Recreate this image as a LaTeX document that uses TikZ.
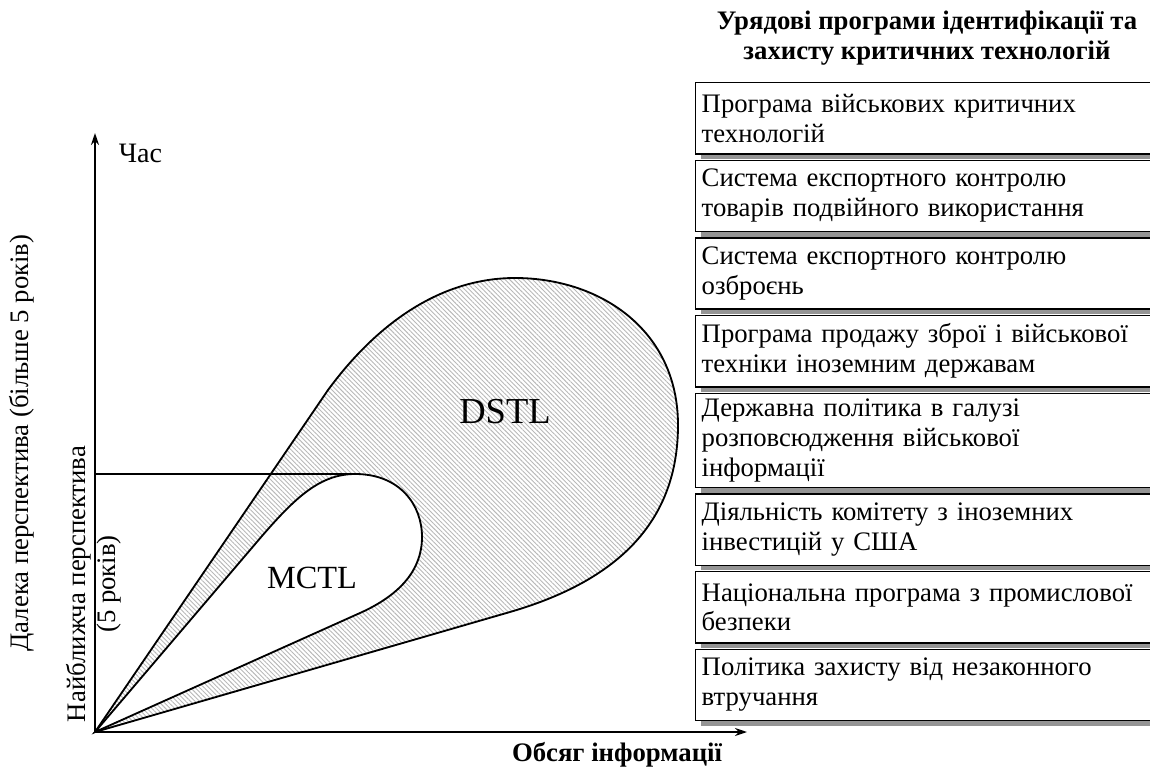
\documentclass[tikz,border=0pt]{standalone}
\usepackage{fontspec}
\setmainfont{Liberation Serif}
\usetikzlibrary{arrows.meta,positioning,shadows,patterns.meta}
\newcommand{\boxfont}{\fontsize{19}{21.3}\selectfont}
\tikzset{
  progbox/.style={
    rectangle,
    draw=black,
    line width=1pt,
    fill=white,
    minimum height=1.78cm,
    text width=11.4cm,
    inner xsep=0.15cm,
    inner ysep=2pt,
    align=left,
    font=\boxfont,
    drop shadow={shadow xshift=0.13cm, shadow yshift=-0.13cm, fill=black!42, opacity=1}
  },
  axis/.style={
    -{Stealth[length=3mm, width=2mm]},
    line width=1.4pt
  }
}

\begin{document}
\begin{tikzpicture}[
  x=0.025cm, y=-0.025cm,
  node distance=0.125cm,
  contour/.style={line width=1.3pt},
  hatched/.style={pattern={Lines[angle=-45, distance=2.3pt, line width=0.65pt]}, pattern color=black!28},
  biglabel/.style={font=\fontsize{26}{30}\selectfont},
  midlabel/.style={font=\fontsize{23}{27}\selectfont}
]
\useasboundingbox (0,0) rectangle (1150,767);

% Key points of the chart
\coordinate (O) at (95,732);
\coordinate (dstlkink) at (328,390);
\coordinate (dstltop) at (515,278);
\coordinate (dstlright) at (678,425);
\coordinate (dstlend) at (510,612);
\coordinate (mctlkink) at (262,536);
\coordinate (mctltop) at (355,474);
\coordinate (mctlright) at (422,537);
\coordinate (mctlend) at (360,613);

% DSTL area, hatched
\fill[hatched] (O) -- (dstlkink) .. controls (378,322) and (442,278) .. (dstltop)
  .. controls (600,278) and (678,330) .. (dstlright)
  .. controls (678,520) and (620,580) .. (dstlend) -- cycle;

% MCTL area, blank
\fill[white] (O) -- (mctlkink) .. controls (295,498) and (320,474) .. (mctltop)
  .. controls (400,474) and (422,505) .. (mctlright)
  .. controls (422,570) and (400,595) .. (mctlend) -- cycle;

% Contours
\draw[contour] (O) -- (dstlkink) .. controls (378,322) and (442,278) .. (dstltop)
  .. controls (600,278) and (678,330) .. (dstlright)
  .. controls (678,520) and (620,580) .. (dstlend) -- cycle;
\draw[contour] (O) -- (mctlkink) .. controls (295,498) and (320,474) .. (mctltop)
  .. controls (400,474) and (422,505) .. (mctlright)
  .. controls (422,570) and (400,595) .. (mctlend) -- cycle;

% 5-year level
\draw[line width=0.8pt] (O |- mctltop) -- (mctltop);

% Axes
\coordinate (ytip) at (95,133);
\coordinate (xtip) at (747,732);
\draw[axis] (O) -- (ytip);
\draw[axis] (O) -- (xtip);

% Axis labels
\node[anchor=base west, font=\fontsize{20}{24}\selectfont] (time) at (114,163) {Час};
\node[anchor=base, font=\boxfont\bfseries] (volume) at (617,761) {Обсяг інформації};
\node[rotate=90, font=\boxfont] (far) at (22,443) {Далека перспектива (більше 5 років)};
\node[rotate=90, align=center, font=\boxfont] (near) at (94,584) {Найближча перспектива\\(5 років)};

% Area labels
\node[biglabel] (dstl) at (505,412) {DSTL};
\node[midlabel] (mctl) at (312,578) {MCTL};

% Government programmes
\node[align=center, font=\boxfont\bfseries] (head) at (927,38) {Урядові програми ідентифікації та\\захисту критичних технологій};
\node[progbox, anchor=north west] (prog1) at (695,82) {Програма військових критичних\\технологій};
\node[progbox, below=of prog1] (prog2) {Система експортного контролю\\товарів подвійного використання};
\node[progbox, below=of prog2] (prog3) {Система експортного контролю\\озброєнь};
\node[progbox, below=of prog3] (prog4) {Програма продажу зброї і військової\\техніки іноземним державам};
\node[progbox, below=of prog4, minimum height=2.36cm] (prog5) {Державна політика в галузі\\розповсюдження військової\\інформації};
\node[progbox, below=of prog5] (prog6) {Діяльність комітету з іноземних\\інвестицій у США};
\node[progbox, below=of prog6] (prog7) {Національна програма з промислової\\безпеки};
\node[progbox, below=of prog7] (prog8) {Політика захисту від незаконного\\втручання};

\end{tikzpicture}
\end{document}
